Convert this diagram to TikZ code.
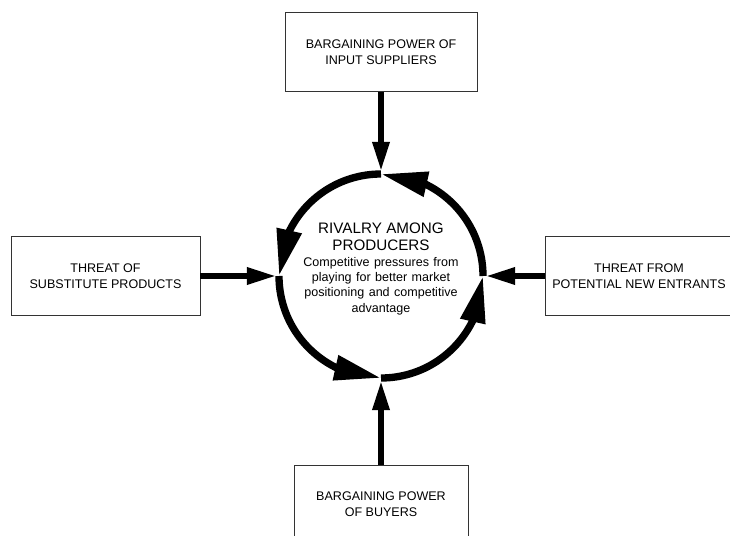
\documentclass[tikz,border=0pt]{standalone}
\usepackage{fontspec}
\setmainfont{Liberation Sans}
\usetikzlibrary{arrows.meta,bending}

\begin{document}
\begin{tikzpicture}[node distance=168pt, auto]
\tikzstyle{block} = [rectangle, draw=black!80, line width=0.7pt, align=center,
                     minimum height=59pt, font=\fontsize{9.4}{12}\selectfont]
\tikzstyle{line} = [draw, line width=4.5pt, -{Triangle[length=22pt, width=12pt]}, shorten >=2pt]
\tikzstyle{ringarrow} = [draw, line width=5.5pt, -{Triangle[length=35pt, width=18pt, flex]}]

\useasboundingbox (-285.75pt,-194.25pt) rectangle (261.75pt,207pt);

\node [circle, minimum size=153pt, inner sep=0pt, outer sep=0pt] (ring) {};
\node [above of=ring, node distance=5pt, text width=125pt, align=center, inner sep=0pt] (rivalry)
  {{\fontsize{11.4}{12.75}\selectfont RIVALRY AMONG\\PRODUCERS\par}
   \fontsize{9.4}{11.5}\selectfont Competitive pressures from\\playing for better market\\positioning and competitive\\advantage};

\node [block, above of=ring, minimum width=144pt] (suppliers) {BARGAINING POWER OF\\INPUT SUPPLIERS};
\node [block, left of=ring, node distance=206.6pt, minimum width=141.75pt] (substitutes) {THREAT OF\\SUBSTITUTE PRODUCTS};
\node [block, right of=ring, node distance=193.5pt, minimum width=141pt] (entrants) {THREAT FROM\\POTENTIAL NEW ENTRANTS};
\node [block, below of=ring, node distance=171.25pt, minimum width=130.5pt] (buyers) {BARGAINING POWER\\OF BUYERS};

\path [line] (suppliers) -- (ring.north);
\path [line] (substitutes) -- (ring.west);
\path [line] (entrants) -- (ring.east);
\path [line] (buyers) -- (ring.south);

% the rivalry loop, one quarter per arrow
\path [ringarrow] (ring.north) arc [start angle=90, end angle=180, radius=76.5pt];
\path [ringarrow] (ring.west) arc [start angle=180, end angle=270, radius=76.5pt];
\path [ringarrow] (ring.south) arc [start angle=270, end angle=360, radius=76.5pt];
\path [ringarrow] (ring.east) arc [start angle=0, end angle=90, radius=76.5pt];
\end{tikzpicture}
\end{document}
